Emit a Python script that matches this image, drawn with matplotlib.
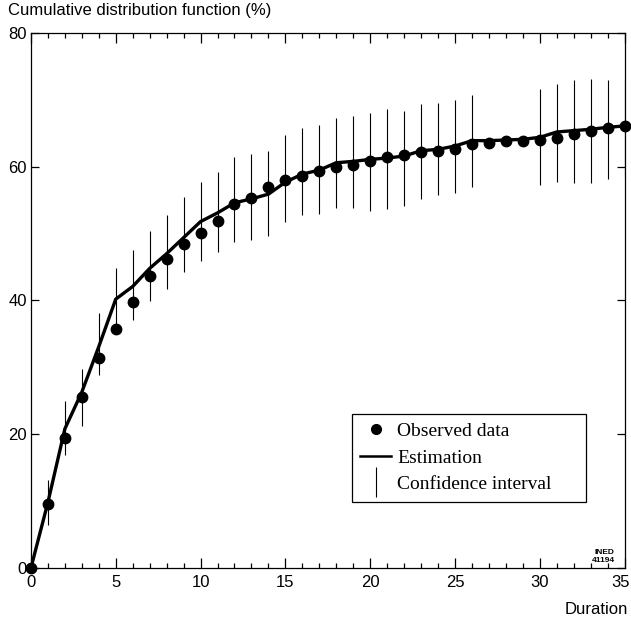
import numpy as np
import matplotlib
matplotlib.use("Agg")
import matplotlib.pyplot as plt
from matplotlib.lines import Line2D
from matplotlib.ticker import MultipleLocator
from matplotlib.transforms import ScaledTranslation

# duration (years) and cumulative distribution values (%)
duration = list(range(36))
observed = [0.0, 9.5, 19.4, 25.6, 31.4, 35.8, 39.8, 43.6, 46.2, 48.4,
            50.1, 51.9, 54.4, 55.4, 56.9, 58.0, 58.6, 59.4, 59.9, 60.3,
            60.9, 61.4, 61.8, 62.2, 62.3, 62.7, 63.4, 63.5, 63.8, 63.9,
            64.0, 64.3, 64.9, 65.3, 65.8, 66.1]
estimation = [0.0, 9.8, 20.8, 26.3, 33.1, 40.2, 42.1, 44.8, 47.0, 49.4,
              51.8, 53.1, 54.6, 55.2, 55.9, 57.7, 58.9, 59.5, 60.6, 60.8,
              61.1, 61.3, 61.6, 62.4, 62.6, 63.1, 63.9, 63.9, 64.0, 64.1,
              64.4, 65.2, 65.4, 65.6, 65.9, 66.1]
nan = float("nan")
ci_low = [nan, 6.5, 16.9, 21.2, 28.8, 35.4, 37.1, 39.9, 41.7, 44.2,
          45.9, 47.2, 48.7, 49.1, 49.7, 51.8, 52.8, 52.9, 53.8, 53.8,
          53.4, 53.7, 54.2, 55.2, 55.7, 56.1, 56.9, nan, nan, nan,
          57.2, 57.7, 57.6, 57.6, 58.2, 58.5]
ci_high = [nan, 13.1, 24.9, 29.7, 38.2, 44.9, 47.6, 50.4, 52.8, 55.5,
           57.7, 59.2, 61.5, 61.9, 62.4, 64.8, 65.8, 66.2, 67.3, 67.6,
           68.0, 68.6, 68.3, 69.4, 69.5, 70.0, 70.8, nan, nan, nan,
           71.6, 72.4, 73.0, 73.1, 72.9, 73.0]

plt.rcParams["font.family"] = ["Liberation Sans", "DejaVu Sans"]

fig = plt.figure(figsize=(6.31, 6.19), dpi=100)
ax = fig.add_axes([0.049, 0.0824, 0.941, 0.8643])

x = np.array(duration)
lo = np.array(ci_low)
hi = np.array(ci_high)
ok = ~np.isnan(lo)
ax.vlines(x[ok], lo[ok], hi[ok], color="black", lw=0.8, zorder=2)
ax.plot(duration, estimation, color="black", lw=2.4, zorder=3,
        solid_joinstyle="miter")
ax.plot(duration, observed, "o", color="black", ms=7.5, zorder=4,
        clip_on=False)

ax.set_xlim(0, 35)
ax.set_ylim(0, 80)
ax.xaxis.set_major_locator(MultipleLocator(5))
ax.xaxis.set_minor_locator(MultipleLocator(1))
ax.yaxis.set_major_locator(MultipleLocator(20))
ax.tick_params(axis="both", which="both", direction="in", colors="black",
               labelsize=12, width=0.9)
ax.tick_params(axis="x", which="major", length=7, top=True, pad=5)
ax.tick_params(axis="x", which="minor", length=3.5, top=True)
ax.tick_params(axis="y", which="major", length=6, right=True, pad=3)
for s in ax.spines.values():
    s.set_linewidth(0.9)

# pull the "35" label in so it stays inside the figure
fig.canvas.draw()
for lab in ax.get_xticklabels():
    if lab.get_text() == "35":
        lab.set_transform(lab.get_transform()
                          + ScaledTranslation(-4 / 100, 0,
                                              fig.dpi_scale_trans))

fig.text(0.013, 0.995, "Cumulative distribution function (%)",
         ha="left", va="top", fontsize=12)
fig.text(0.995, 0.004, "Duration", ha="right", va="bottom", fontsize=12)
ax.text(0.983, 0.008, "INED\n41194", transform=ax.transAxes, ha="right",
        va="bottom", fontsize=6, fontweight="bold", linespacing=1.1)

handles = [
    Line2D([], [], color="black", marker="o", ms=7, lw=0),
    Line2D([], [], color="black", lw=1.8),
    Line2D([], [], color="black", lw=0, marker="|", ms=22, mew=0.8),
]
labels = ["Observed data", "Estimation", "Confidence interval"]
leg = ax.legend(handles, labels, loc="upper left", mode="expand",
                bbox_to_anchor=(0.54, 0.127, 0.394, 0.161), borderaxespad=0,
                fancybox=False, framealpha=1, edgecolor="black",
                handlelength=1.6, handletextpad=0.3, labelspacing=0.45,
                borderpad=0.45,
                prop={"family": ["Liberation Serif"], "size": 14})
leg.get_frame().set_linewidth(0.9)

fig.savefig("out.png", dpi=100)
